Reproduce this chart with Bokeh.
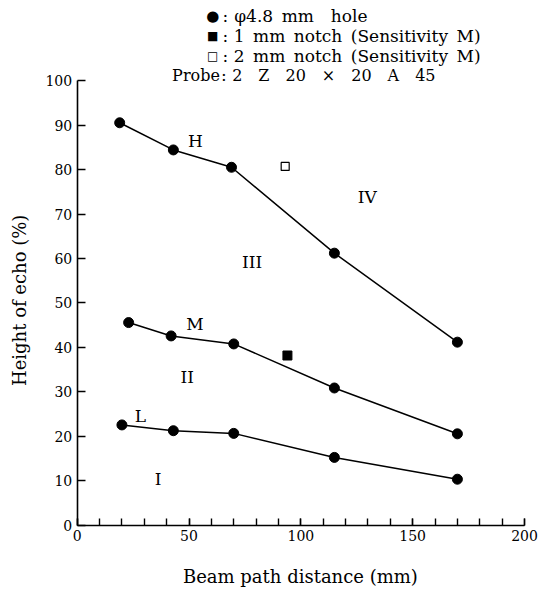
import math
from bokeh.plotting import figure
from bokeh.models import SingleIntervalTicker, Range1d
from bokeh.core.properties import value
from bokeh.embed import file_html
from bokeh.resources import INLINE

# ---- data ----
dist_H = [19, 43, 69, 115, 170]
echo_H = [90.5, 84.4, 80.5, 61.2, 41.2]
dist_M = [23, 42, 70, 115, 170]
echo_M = [45.6, 42.6, 40.8, 30.9, 20.6]
dist_L = [20, 43, 70, 115, 170]
echo_L = [22.6, 21.3, 20.7, 15.3, 10.4]
notch1_dist = [94]
notch1_echo = [38.2]
notch2_dist = [93]
notch2_echo = [80.7]

curve_names = ["H", "M", "L"]
region_names = ["I", "II", "III", "IV"]

EN = "\u2002"
EM = "\u2003"
legend_marks = ["\u25cf", "\u25a0", "\u25a1"]
legend_texts = ["\u03c64.8" + EN + "mm" + EN + EN + "hole",
                "1" + EN + "mm" + EN + "notch" + EN + "(Sensitivity" + EN + "M)",
                "2" + EN + "mm" + EN + "notch" + EN + "(Sensitivity" + EN + "M)"]
probe_name = "Probe"
probe_text = EM.join(["2", "Z", "20", "\u00d7", "20", "A", "45"])

x_label = "Beam path distance (mm)"
y_label = "Height of echo (%)"

FONT = "DejaVu Serif"

# frame fills the whole canvas; axes are pinned at the data origin
p = figure(width=539, height=590, output_backend="svg", toolbar_location=None,
           x_range=Range1d(-34.29, 206.71), y_range=Range1d(-14.61, 117.98),
           min_border=0)
p.outline_line_color = None
p.xgrid.visible = False
p.ygrid.visible = False
p.background_fill_color = "white"
p.border_fill_color = "white"

xa = p.xaxis[0]
xa.fixed_location = 0
xa.bounds = (0, 200)
xa.ticker = SingleIntervalTicker(interval=50, num_minor_ticks=5)
xa.major_tick_in = 7
xa.major_tick_out = 0
xa.minor_tick_in = 7
xa.minor_tick_out = 0
xa.axis_line_width = 1.6
xa.major_tick_line_width = 1.4
xa.minor_tick_line_width = 1.4
xa.major_label_text_font = FONT
xa.major_label_text_font_size = "14px"
xa.major_label_text_color = "black"
xa.major_label_standoff = 5

ya = p.yaxis[0]
ya.fixed_location = 0
ya.bounds = (0, 100)
ya.ticker = SingleIntervalTicker(interval=10, num_minor_ticks=0)
ya.major_tick_in = 8
ya.major_tick_out = 0
ya.minor_tick_in = 0
ya.minor_tick_out = 0
ya.axis_line_width = 1.6
ya.major_tick_line_width = 1.4
ya.major_label_text_font = FONT
ya.major_label_text_font_size = "14px"
ya.major_label_text_color = "black"
ya.major_label_standoff = 5

# axis titles
p.text(x=[99.8], y=[-11.5], text=[x_label], text_font=value(FONT),
       text_font_size="18px", text_color="black",
       text_align="center", text_baseline="middle")
p.text(x=[-25.8], y=[50.6], text=[y_label], angle=math.pi / 2, text_font=value(FONT),
       text_font_size="18px", text_color="black",
       text_align="center", text_baseline="middle")

# curves
for xs, ys in [(dist_H, echo_H), (dist_M, echo_M), (dist_L, echo_L)]:
    p.line(xs, ys, line_color="black", line_width=1.5)
    p.scatter(xs, ys, marker="circle", size=10, color="black")

p.scatter(notch1_dist, notch1_echo, marker="square", size=9, color="black")
p.scatter(notch2_dist, notch2_echo, marker="square", size=8,
          fill_color="white", line_color="black", line_width=1.2)

# curve names and region labels
p.text(x=[52.9, 52.6, 28.3], y=[86.5, 45.3, 24.7], text=curve_names,
       text_font=value(FONT), text_font_size="17px", text_color="black",
       text_align="center", text_baseline="middle")
p.text(x=[36.2, 49.2, 78.2, 129.7], y=[10.5, 33.3, 59.2, 73.8], text=region_names,
       text_font=value(FONT), text_font_size="17px", text_color="black",
       text_align="center", text_baseline="middle")

# legend block above the axes
leg_y = [114.4, 110.1, 105.6]
probe_y = 101.2
p.text(x=[60.6], y=[leg_y[0]], text=[legend_marks[0]], text_font=value(FONT),
       text_font_size="15px", text_color="black",
       text_align="center", text_baseline="middle")
p.text(x=[60.6, 60.6], y=leg_y[1:], text=legend_marks[1:], text_font=value(FONT),
       text_font_size="12px", text_color="black",
       text_align="center", text_baseline="middle")
p.text(x=[66.3, 66.3, 66.3, 65.6], y=leg_y + [probe_y], text=[":"] * 4,
       text_font=value(FONT), text_font_size="17px", text_color="black",
       text_align="center", text_baseline="middle")
p.text(x=[70.2, 70.0, 70.0], y=leg_y, text=legend_texts,
       text_font=value(FONT), text_font_size="17px", text_color="black",
       text_align="left", text_baseline="middle")
p.text(x=[69.3], y=[probe_y], text=[probe_text],
       text_font=value(FONT), text_font_size="16px", text_color="black",
       text_align="left", text_baseline="middle")
p.text(x=[63.8], y=[probe_y], text=[probe_name],
       text_font=value(FONT), text_font_size="16px", text_color="black",
       text_align="right", text_baseline="middle")

open("out.html", "w").write(file_html(p, INLINE))
